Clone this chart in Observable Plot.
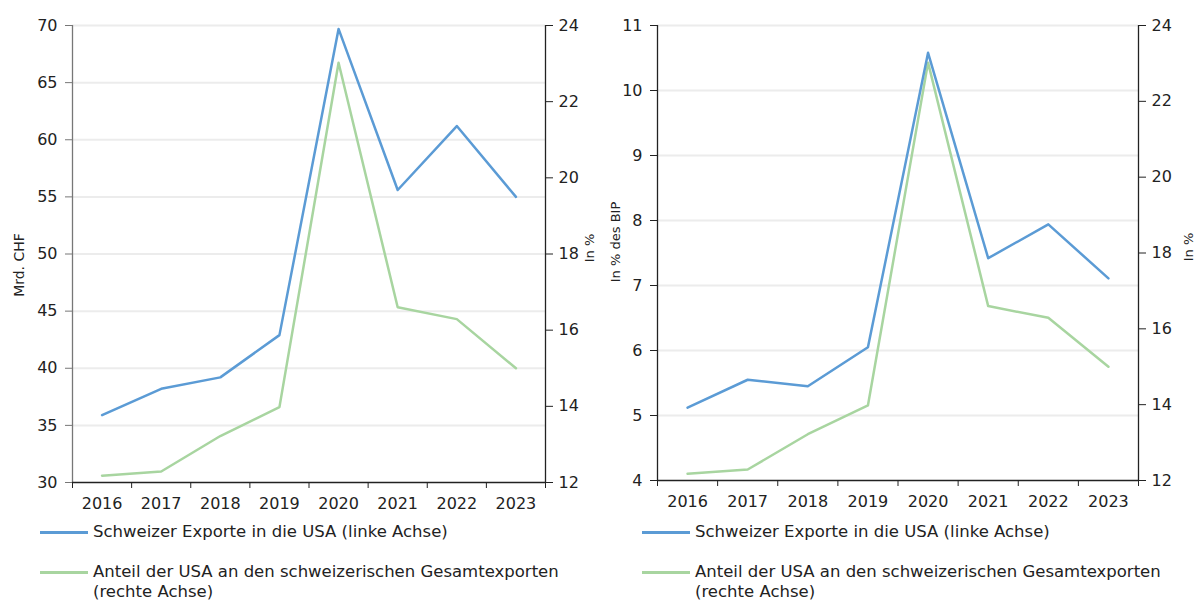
<!DOCTYPE html>
<html>
<head>
<meta charset="utf-8">
<script src="https://cdn.jsdelivr.net/npm/d3@7"></script>
<script src="https://cdn.jsdelivr.net/npm/@observablehq/plot@0.6"></script>
<style>
  html, body { margin: 0; padding: 0; background: #fff; }
  body { width: 1196px; height: 601px; overflow: hidden; font-family: "DejaVu Sans", sans-serif; color: #222; }
  #wrap { display: flex; width: 1196px; }
  .panel { position: relative; width: 598px; height: 601px; }
  .panel svg { display: block; }
  .legend { position: absolute; left: 0; top: 0; width: 598px; font-size: 16.5px; line-height: 20px; }
  .item { position: absolute; display: flex; align-items: flex-start; white-space: nowrap; }
  .sw { width: 48px; height: 3px; margin-top: 9px; margin-right: 5px; flex: none; }
</style>
</head>
<body>
<div id="wrap"></div>
<script>
// ---- data ----
const years = [2016, 2017, 2018, 2019, 2020, 2021, 2022, 2023];
const exportsCHF = [35.9, 38.2, 39.2, 42.9, 69.7, 55.6, 61.2, 55.0];     // Mrd. CHF (left panel, left axis)
const exportsGDP = [5.12, 5.55, 5.45, 6.05, 10.58, 7.42, 7.94, 7.11];    // In % des BIP (right panel, left axis)
const shareUSA = [12.18, 12.29, 13.22, 13.98, 23.02, 16.6, 16.29, 15.0]; // In % (right axis, both panels)
const leftTicksA = [30, 35, 40, 45, 50, 55, 60, 65, 70];
const leftTicksB = [4, 5, 6, 7, 8, 9, 10, 11];
const rightTicks = [12, 14, 16, 18, 20, 22, 24];
const seriesNames = [
  "Schweizer Exporte in die USA (linke Achse)",
  "Anteil der USA an den schweizerischen Gesamtexporten<br>(rechte Achse)"
];
const colors = ["#5b9bd5", "#a8d5a0"];

function makePanel(opts) {
  const {leftDomain, leftTicks, leftValues, leftLabel, leftLabelSize, marginLeft, marginRight, marginBottom, axisColor, labelDx, rightLabelDx, labelDy} = opts;
  const toLeft = d3.scaleLinear([12, 24], leftDomain);
  const bounds = d3.range(years.length + 1).map(i => years[0] - 0.5 + i);
  const blue = years.map((y, i) => ({year: y, v: leftValues[i]}));
  const green = years.map((y, i) => ({year: y, v: toLeft(shareUSA[i])}));
  const fs = 16;
  return Plot.plot({
    width: 598,
    height: 515,
    marginTop: 25,
    marginLeft,
    marginRight,
    marginBottom,
    style: {fontFamily: "DejaVu Sans, sans-serif", fontSize: fs + "px", color: "#222", background: "transparent"},
    x: {type: "linear", domain: [bounds[0], bounds[bounds.length - 1]], axis: null},
    y: {domain: leftDomain, axis: null},
    marks: [
      Plot.ruleY(leftTicks.slice(1), {stroke: "#ececec", strokeWidth: 2}),
      Plot.ruleX([bounds[0]], {stroke: axisColor, strokeWidth: 1.3}),
      Plot.ruleX([bounds[bounds.length - 1]], {stroke: "#222", strokeWidth: 1.3}),
      Plot.ruleY([leftDomain[0]], {stroke: "#222", strokeWidth: 1.3}),
      Plot.axisY(leftTicks, {anchor: "left", tickSize: 7, tickPadding: 8, fontSize: fs, label: null, stroke: axisColor, tickFormat: d => String(d)}),
      Plot.axisY(rightTicks.map(t => toLeft(t)), {anchor: "right", tickSize: 7, tickPadding: 6, fontSize: fs, label: null, stroke: "#222", tickFormat: d => String(Math.round(toLeft.invert(d)))}),
      Plot.axisX(bounds, {anchor: "bottom", tickSize: 6, tickFormat: () => "", label: null, stroke: "#222"}),
      Plot.axisX(years, {anchor: "bottom", tickSize: 0, tickPadding: 15, fontSize: fs, label: null, tickFormat: d => String(d)}),
      Plot.text([leftLabel], {frameAnchor: "left", rotate: -90, dx: labelDx, dy: labelDy, fontSize: leftLabelSize, fill: "#222", textAnchor: "middle"}),
      Plot.text(["In %"], {frameAnchor: "right", rotate: -90, dx: rightLabelDx, dy: -6, fontSize: 13, fill: "#222", textAnchor: "middle"}),
      Plot.line(green, {x: "year", y: "v", stroke: colors[1], strokeWidth: 2.5}),
      Plot.line(blue, {x: "year", y: "v", stroke: colors[0], strokeWidth: 2.5})
    ]
  });
}

function legend(swLeft) {
  const div = document.createElement("div");
  div.className = "legend";
  const tops = [522, 562];
  seriesNames.forEach((name, i) => {
    const it = document.createElement("div");
    it.className = "item";
    it.style.left = swLeft + "px";
    it.style.top = tops[i] + "px";
    it.innerHTML = `<div class="sw" style="background:${colors[i]}"></div><div>${name}</div>`;
    div.appendChild(it);
  });
  return div;
}

const wrap = document.getElementById("wrap");
const p1 = document.createElement("div"); p1.className = "panel";
p1.appendChild(makePanel({leftDomain: [30, 70], leftTicks: leftTicksA, leftValues: exportsCHF, leftLabel: "Mrd. CHF", leftLabelSize: 14,
  marginLeft: 72, marginRight: 53, marginBottom: 33, axisColor: "#777", labelDx: -53, labelDy: 11, rightLabelDx: 44}));
p1.appendChild(legend(40));
const p2 = document.createElement("div"); p2.className = "panel";
p2.appendChild(makePanel({leftDomain: [4, 11], leftTicks: leftTicksB, leftValues: exportsGDP, leftLabel: "In % des BIP", leftLabelSize: 13,
  marginLeft: 59, marginRight: 58, marginBottom: 35, axisColor: "#222", labelDx: -42, labelDy: -11, rightLabelDx: 50}));
p2.appendChild(legend(44));
wrap.appendChild(p1);
wrap.appendChild(p2);
</script>
</body>
</html>
